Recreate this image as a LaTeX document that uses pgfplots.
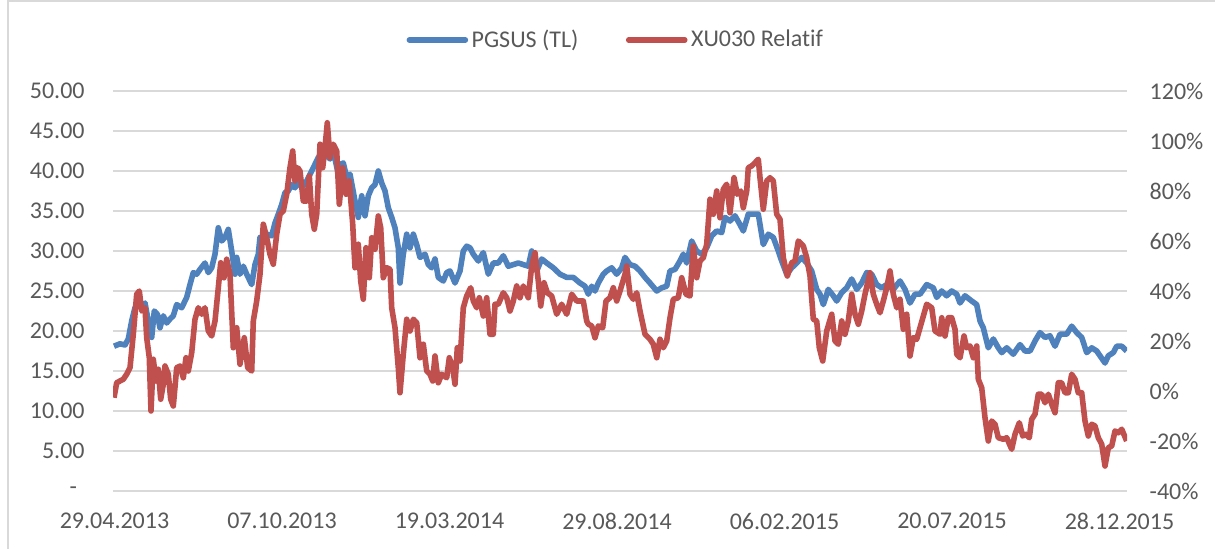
\documentclass[border=0pt]{standalone}
\usepackage{fontspec}
\setmainfont{Carlito}
\usepackage{pgfplots}
\pgfplotsset{compat=1.18}
\definecolor{pblue}{HTML}{4F81BD}
\definecolor{pred}{HTML}{C0504D}
\definecolor{tgray}{HTML}{595959}
\definecolor{ggray}{HTML}{D9D9D9}
\begin{document}
\begin{tikzpicture}
\path[use as bounding box] (-56.5pt,-29pt) rectangle (551pt,245.5pt);
\draw[ggray, line width=1pt] (-52.5pt,-40pt) -- (-52.5pt,244.75pt) -- (560pt,244.75pt);
\pgfplotsset{
  every axis/.append style={
    scale only axis, width=507pt, height=200pt,
    xmin=113, xmax=1127,
    axis line style={draw=none},
    major tick style={draw=none},
    minor tick style={draw=none},
    tick label style={font=\fontsize{12}{14}\selectfont, text=tgray},
  },
}
\begin{axis}[
  at={(0,0)}, anchor=south west,
  ymin=0, ymax=50,
  ytick={0,5,...,50},
  yticklabels={{\makebox[7.5pt][l]{-}},5.00,10.00,15.00,20.00,25.00,30.00,35.00,40.00,45.00,50.00},
  yticklabel style={anchor=east, inner sep=0pt, xshift=-14pt},
  xtick={114.5,282,449.5,617,784.5,952,1119.5},
  xticklabels={29.04.2013,07.10.2013,19.03.2014,29.08.2014,06.02.2015,20.07.2015,28.12.2015},
  xticklabel style={anchor=north, inner sep=0pt, yshift=-10.85pt},
  ymajorgrids, grid style={ggray, line width=0.8pt},
  legend style={at={(0.4966,1.1275)}, anchor=center, draw=none, fill=none,
    font=\fontsize{12}{14}\selectfont, text=tgray,
    legend columns=2, /tikz/every even column/.append style={column sep=22pt},
    nodes={inner sep=1.75pt}},
  legend cell align=left,
  legend image code/.code={\draw[#1, line cap=round] (0pt,0pt) -- (28pt,0pt);},
]
\addplot[pblue, line width=2.8pt, line join=round] coordinates {
(114,18.1)(120,18.4)(125,18.25)(128.3,19)(131.7,21.25)(135,22.9)(138.3,23.5)(141.7,22.9)(145,23.5)(148.3,21.25)(151.7,19.2)(154.3,22.5)(157.3,22.1)(160,20.4)(163.3,21.9)(166.7,21)(170,21.5)(173.3,21.9)(176.7,23.3)(181.7,22.9)(186.7,24.2)(190,25.8)(193.3,27.3)(196.7,27.1)(200,27.7)(205,28.5)(208.3,27.3)(211.7,27.9)(215,29.6)(218.3,32.9)(221.7,31.25)(225,31.7)(228.3,32.7)(231.7,30)(235,27.1)(236.7,29.2)(240,27.1)(243.3,28.1)(246.7,27.1)(251.7,25.8)(255,28.3)(258.3,29.6)(260,31.7)(263.3,31.7)(266.7,32.1)(271.7,31.9)(275,33.5)(278.3,34.6)(281.7,35.8)(285,37.3)(288.3,37.5)(291.7,38.3)(295,37.9)(298.3,38.75)(301.7,37.9)(306.7,38.75)(313.3,40.4)(318.3,41.7)(323.3,42.1)(326.7,41.9)(330,41.5)(333.3,42.5)(338.3,39.6)(340,40.8)(343.3,41)(346.7,39.2)(350,39.6)(355,36.25)(358.3,34.2)(361.7,36.9)(365,34.4)(368.3,36.9)(371.7,37.9)(375,38.3)(378.3,40)(381.7,38.5)(385,37.5)(388.3,35.4)(391.7,34.2)(395,32.9)(398.3,30.4)(400,26)(403.3,29.6)(406.7,32.1)(410,30.4)(413.3,32.1)(416.7,30.8)(420,29.2)(425,29.6)(428.3,28.3)(431.7,27.9)(435,29)(438.3,26.7)(443.3,26.25)(446.7,27.3)(450,27.5)(455,26)(460,27.5)(463.3,30)(466.7,30.6)(470,30.4)(473.3,29.6)(478.3,28.75)(483.3,29.8)(488.3,27.1)(493.3,28.5)(498.3,28.5)(503.3,29.4)(508.3,28.1)(513.3,28.3)(518.3,28.5)(523.3,28.3)(528.3,28.1)(531.7,30)(536.7,27.5)(541.7,29)(546.7,28.5)(553.3,27.9)(560,27.1)(566.7,26.7)(573.3,26.7)(580,26)(585,25.6)(588.3,24.6)(591.7,25.6)(595,25)(598.3,26)(603.3,27.1)(606.7,27.5)(611.7,27.9)(616.7,27.1)(621.7,27.9)(625,29.2)(630,28.3)(635,28.1)(640,27.5)(645,26.7)(650,26)(656.7,25)(661.7,25.4)(666.7,25.6)(670,27.5)(675,27.7)(680,28.75)(683.3,29.6)(686.7,28.5)(691.7,31.25)(696.7,30)(701.7,29.6)(706.7,30.4)(711.7,31.9)(716.7,32.5)(721.7,32.3)(725,34.2)(730,33.75)(735,34.4)(740,33.3)(743.3,32.5)(748.3,34.6)(753.3,34.6)(758.3,34.6)(763.3,30.8)(768.3,32.1)(773.3,31.7)(778.3,30)(781.7,28.75)(786.7,27.1)(791.7,27.9)(796.7,28.5)(801.7,29.2)(806.7,28.5)(811.7,27.5)(816.7,25.2)(820,24.6)(823.3,23.3)(828.3,25.2)(833.3,24.4)(836.7,23.75)(841.7,24.8)(846.7,25.4)(851.7,26.5)(856.7,25.2)(861.7,26)(866.7,27.3)(871.7,27.1)(876.7,25.8)(881.7,25.4)(886.7,25.8)(893.3,25.2)(900,26.25)(905,25.2)(910,23.5)(915,24.6)(920,24.6)(926.7,25.8)(933.3,25.4)(936.7,24.2)(941.7,25)(946.7,24.4)(951.7,25)(956.7,24.6)(960,23.5)(965,24.4)(971.7,23.75)(976.7,23.3)(980,21.25)(983.3,20.4)(988.3,17.9)(993.3,19)(998.3,17.9)(1001.7,17.3)(1006.7,17.9)(1013.3,17.1)(1020,18.3)(1025,17.5)(1030,17.5)(1035,18.75)(1040,19.8)(1045,19.2)(1050,19.4)(1055,18.1)(1060,19.6)(1066.7,19.6)(1071.7,20.6)(1076.7,19.8)(1081.7,19.2)(1086.7,17.3)(1091.7,17.9)(1096.7,17.5)(1100,16.9)(1105,16)(1108.3,16.9)(1113.3,17.3)(1116.7,18.1)(1121.7,18.1)(1126.7,17.5)
};
\addlegendentry{PGSUS (TL)}
\addlegendimage{pred, line width=2.8pt}
\addlegendentry{XU030 Relat\kern0pt if}
\end{axis}
\begin{axis}[
  at={(0,0)}, anchor=south west,
  ymin=-40, ymax=120,
  ytick={-40,-20,...,120},
  yticklabels={-40\%,-20\%,0\%,20\%,40\%,60\%,80\%,100\%,120\%},
  axis y line*=right,
  axis x line=none,
  yticklabel style={anchor=west, inner sep=0pt, xshift=11.15pt},
  xtick=\empty,
]
\addplot[pred, line width=2.8pt, line join=round] coordinates {
(114,-2.7)(116.7,3.3)(120,4)(123.3,4.7)(126.7,6.7)(130,9.3)(133.3,22.7)(136.7,38.7)(139.3,40)(141.7,32)(145,33.3)(146.7,21.3)(149.3,13.3)(151,-8)(153.3,12.7)(156,4)(158.3,8.7)(160.7,-3.3)(163.3,2.7)(165,10)(168.3,6.7)(170.7,-3.3)(173.3,-6)(176.7,9.3)(180,10)(183.3,5.3)(186,13.3)(188.3,8)(191.7,15.3)(195,28.7)(198.3,33.3)(201.7,30.7)(205,33.3)(208.3,24)(211.7,22)(215,28)(218.3,41.3)(220.7,51.3)(224,45.3)(226.7,52.7)(230,46.7)(233.3,17.3)(236.7,25.3)(240,10.7)(244.3,21.3)(247.7,9.3)(251.7,8)(253.3,28)(256.7,36)(260,46.7)(263.3,66.7)(266.7,61.3)(270,54.7)(273.3,50.7)(276.7,62.7)(280,70.7)(283.3,72)(286.7,78.7)(290,89.3)(292.7,96)(295,84)(297.7,89.3)(300,88)(303.3,76)(306.7,76)(309.3,86)(311.7,70.7)(314.3,64.7)(316.7,70.7)(320,98.7)(322.7,89.3)(325,97.3)(327.3,107.3)(330,93.3)(333.3,98.7)(336.7,96)(339.3,74.7)(342.7,89.3)(346,78.7)(349.3,84)(352.7,66.7)(355,49.3)(358.3,58.7)(360.7,44)(363.3,36.7)(366,57.3)(369.3,45.3)(371.7,61.3)(375,56.7)(378.3,70)(380.7,65.3)(383.3,45.3)(386.7,49.3)(390,48.7)(391.7,33.3)(395,25.3)(398.3,9.3)(400,-0.7)(403.3,14.7)(406.7,28.7)(410,24)(413.3,28.7)(416.7,27.3)(420,13.3)(423.3,18.7)(426.7,8)(430,6.7)(432.7,4)(435,14)(438.3,3.3)(441.7,6.7)(446.7,5.3)(449.3,13.3)(452.7,9.3)(455,2.7)(457.3,17.3)(460,12)(463.3,33.3)(466.7,38)(470.7,41.3)(473.3,36)(476.7,33.3)(479.3,37.3)(483.3,30)(486.7,37.3)(490,22.7)(493.3,22.7)(495,34.7)(498.3,34.7)(503.3,39.3)(506.7,37.3)(510,32)(513.3,36)(516.7,42)(520,37.3)(523.3,42)(528.3,37.3)(531.7,50)(535,55.3)(538.3,44)(540.7,34)(544,43.3)(547.3,39.3)(551.7,38)(556.7,30.7)(561.7,34.7)(566.7,30.7)(571.7,38.7)(576.7,36)(580,36)(583.3,36)(586.7,28)(588.3,26.7)(591.7,26)(595,21.3)(598.3,26)(602.7,25.3)(606,36)(610,37.3)(613.3,41.3)(616.7,36)(620,40)(625,46.7)(626.7,50)(630,38.7)(633.3,36.7)(636.7,39.3)(640,32)(645,22.7)(650,20.7)(653.3,18.7)(656.7,13.3)(660,20.7)(663.3,17.3)(666.7,20)(670,29.3)(673.3,36.7)(678.3,37.3)(681.7,45.3)(686,38.7)(690,38)(693.3,58)(696.7,45.3)(700,52)(703.3,53.3)(706.7,58.7)(710,76.7)(713.3,70.7)(716.7,80)(720,69.3)(723.3,80.7)(726.7,82.7)(730,71.3)(734,85.3)(737.3,78.7)(740.7,80)(743.3,73.3)(746.7,80)(748.3,89.3)(751.7,90)(755,91.3)(758.3,92.7)(760,85.3)(763.3,72.7)(766.7,84)(770,85.3)(773.3,84)(776.7,70.7)(780,68.7)(783.3,53.3)(787.3,46)(791.7,51.3)(795,52)(798.3,60)(803.3,58)(806.7,53.3)(810,46)(813.3,28.7)(816.7,28)(819.3,17.3)(822.7,12)(826.7,24)(831.7,30.7)(835,20)(838.3,18.7)(841.7,28)(845,22.7)(848.3,28)(851.7,38.7)(855,30.7)(858.3,26.7)(861.7,32)(865,38.7)(870,47.3)(873.3,38.7)(876.7,34.7)(880,31.3)(883.3,36)(886.7,41.3)(890,48)(893.3,38.7)(896.7,33.3)(900,36.7)(903.3,24.7)(906.7,30.7)(910,14)(913.3,21.3)(916.7,20.7)(920,25.3)(926.7,34.7)(931.7,33.3)(935,24)(940,22.7)(941.7,29.3)(945,22)(948.3,29.3)(951.7,29.3)(955,24.7)(956.7,14.7)(960,13.3)(964,22)(966.7,17.3)(970,18)(973.3,13.3)(976.7,18)(978.3,4.7)(981.7,1.3)(985,-10.7)(988.3,-20)(991.7,-12)(995,-13.3)(998.3,-18.7)(1003.3,-19.3)(1006.7,-18.7)(1011.7,-23.3)(1015,-17.3)(1019.3,-12.7)(1022.7,-18)(1026,-17.3)(1029.3,-18.7)(1031.7,-11.3)(1035,-9.3)(1038.3,-1.3)(1041.7,-1.3)(1045,-4.7)(1048.3,-1.3)(1051.7,-5.3)(1055,-8.7)(1058.3,3.3)(1061.7,3.3)(1065,-0.7)(1068.3,-0.7)(1071.7,6.7)(1075,4.7)(1078.3,-0.7)(1081.7,-0.7)(1085,-12)(1088.3,-18)(1091.7,-13.3)(1095,-14)(1098.3,-18.7)(1101.7,-21.3)(1105,-30)(1108.3,-22.7)(1111.7,-22)(1115,-16)(1118.3,-16.7)(1121.7,-15.3)(1126.7,-20)
};
\end{axis}
\end{tikzpicture}
\end{document}
